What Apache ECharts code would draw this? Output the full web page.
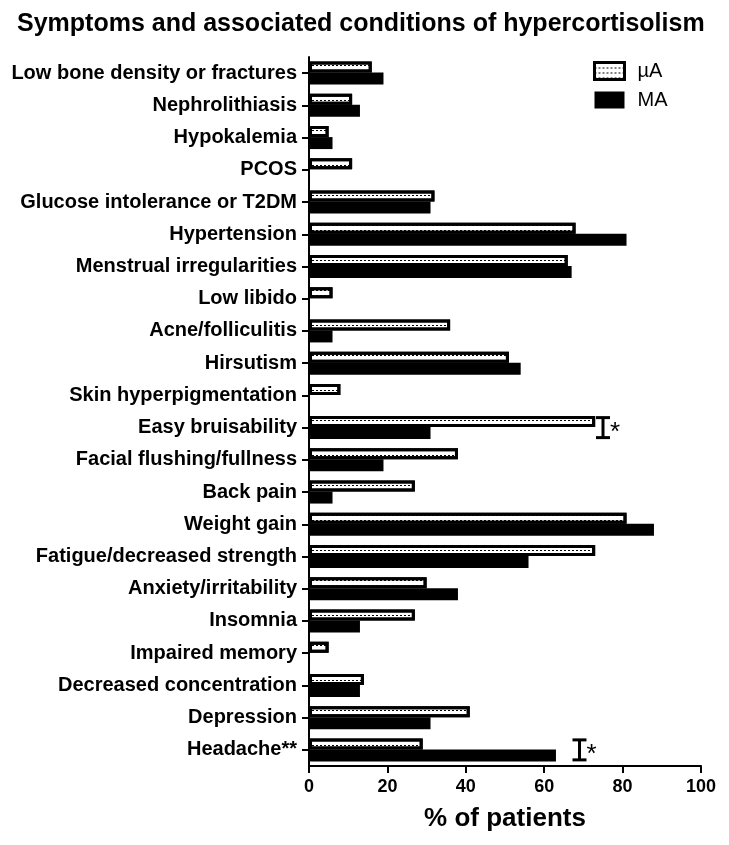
<!DOCTYPE html>
<html>
<head>
<meta charset="utf-8">
<script src="https://cdn.jsdelivr.net/npm/echarts@6/dist/echarts.min.js"></script>
<style>html,body{margin:0;padding:0;background:#fff;}#c{width:729px;height:845px;}</style>
</head>
<body>
<div id="c"></div>
<script>
var categories = ["Low bone density or fractures","Nephrolithiasis","Hypokalemia","PCOS","Glucose intolerance or T2DM","Hypertension","Menstrual irregularities","Low libido","Acne/folliculitis","Hirsutism","Skin hyperpigmentation","Easy bruisability","Facial flushing/fullness","Back pain","Weight gain","Fatigue/decreased strength","Anxiety/irritability","Insomnia","Impaired memory","Decreased concentration","Depression","Headache**"];
var microA = [16,11,5,11,32,68,66,6,36,51,8,73,38,27,81,73,30,27,5,14,41,29];
var macroA = [19,13,6,0,31,81,67,0,6,54,0,31,19,6,88,56,38,13,0,13,31,63];
var sigMarkers = [[75, "Easy bruisability"], [69, "Headache**"]];
var xTicks = [0, 20, 40, 60, 80, 100];

var FONT = 'Arial, "Liberation Sans", sans-serif';
var chart = echarts.init(document.getElementById('c'), null, {renderer: 'canvas'});
var dotDecal = {symbol: 'rect', symbolSize: 1, color: '#000', backgroundColor: null, dashArrayX: [2, 2], dashArrayY: [1, 4], rotation: 0};
chart.setOption({
  backgroundColor: '#fff',
  animation: false,
  title: {
    text: 'Symptoms and associated conditions of hypercortisolism',
    left: 12, top: 7,
    textStyle: {fontFamily: FONT, fontSize: 25, fontWeight: 'bold', color: '#000'}
  },
  legend: {
    orient: 'vertical', left: 593, top: 61, padding: 0, icon: 'rect',
    itemWidth: 30, itemHeight: 17, itemGap: 9,
    textStyle: {fontFamily: FONT, fontSize: 20, color: '#000', padding: [0, 0, 0, 8]},
    data: [
      {name: 'µA', itemStyle: {color: '#fff', borderColor: '#000', borderWidth: 3, decal: dotDecal}},
      {name: 'MA', itemStyle: {color: '#000'}}
    ]
  },
  grid: {left: 309, right: 28, top: 57, bottom: 79, containLabel: false},
  xAxis: {
    type: 'value', min: 0, max: 100, interval: 20,
    axisLine: {show: true, lineStyle: {color: '#000', width: 2}},
    axisTick: {show: true, length: 7, lineStyle: {color: '#000', width: 2}},
    splitLine: {show: false},
    axisLabel: {fontFamily: FONT, fontSize: 18, fontWeight: 'bold', color: '#000', margin: 12,
      formatter: function (v) { return xTicks.indexOf(v) >= 0 ? String(v) : ''; }},
    name: '% of patients', nameLocation: 'middle', nameGap: 40,
    nameTextStyle: {fontFamily: FONT, fontSize: 26, fontWeight: 'bold', color: '#000'}
  },
  yAxis: {
    type: 'category', data: categories, inverse: true,
    axisLine: {show: true, lineStyle: {color: '#000', width: 2}},
    axisTick: {show: true, alignWithLabel: true, length: 7, lineStyle: {color: '#000', width: 2}},
    axisLabel: {fontFamily: FONT, fontSize: 20, fontWeight: 'bold', color: '#000', margin: 12, interval: 0}
  },
  series: [
    {
      name: 'µA', type: 'bar', data: microA, barWidth: 11, barGap: '0%',
      itemStyle: {color: '#fff', borderColor: '#000', borderWidth: 3, decal: dotDecal}
    },
    {
      name: 'MA', type: 'bar', data: macroA, barWidth: 12,
      itemStyle: {color: '#000'}
    },
    {
      type: 'custom', data: sigMarkers, silent: true, z: 5,
      encode: {x: 0, y: 1},
      renderItem: function (params, api) {
        var p = api.coord([api.value(0), api.value(1)]);
        var h = 10, w = 7;
        var st = {stroke: '#000', lineWidth: 3};
        return {type: 'group', children: [
          {type: 'line', shape: {x1: p[0], y1: p[1] - h, x2: p[0], y2: p[1] + h}, style: st},
          {type: 'line', shape: {x1: p[0] - w, y1: p[1] - h, x2: p[0] + w, y2: p[1] - h}, style: st},
          {type: 'line', shape: {x1: p[0] - w, y1: p[1] + h, x2: p[0] + w, y2: p[1] + h}, style: st},
          {type: 'text', style: {text: '*', x: p[0] + 7, y: p[1] + 5, fill: '#000', font: '26px ' + FONT, textVerticalAlign: 'middle'}}
        ]};
      }
    }
  ]
});
</script>
</body>
</html>
